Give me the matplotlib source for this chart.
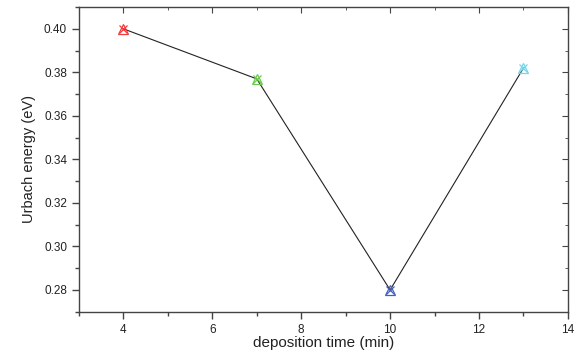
import matplotlib
matplotlib.use("Agg")
import matplotlib.pyplot as plt
from matplotlib.ticker import MultipleLocator

plt.rcParams['font.family'] = ['Liberation Sans', 'DejaVu Sans']

deposition_time = [4, 7, 10, 13]
urbach_energy = [0.400, 0.377, 0.280, 0.382]
point_colors = ["#f03c3c", "#6cc850", "#4060c0", "#6ed8ec"]

fig = plt.figure(figsize=(5.76, 3.53), dpi=100)
ax = fig.add_axes([0.137, 0.117, 0.849, 0.863])

ax.plot(deposition_time, urbach_energy, color="#222222", lw=0.8, zorder=1)
for x, y, c in zip(deposition_time, urbach_energy, point_colors):
    ax.plot(x, y, marker="x", ms=6, mew=0.9, color=c, zorder=3)
    ax.plot(x, y, marker="^", ms=7, mew=0.9, mfc="none", mec=c, zorder=3)

ax.set_xlim(3, 14)
ax.set_ylim(0.27, 0.41)
ax.xaxis.set_major_locator(MultipleLocator(2))
ax.xaxis.set_minor_locator(MultipleLocator(1))
ax.yaxis.set_major_locator(MultipleLocator(0.02))
ax.yaxis.set_minor_locator(MultipleLocator(0.01))
ax.yaxis.set_major_formatter(matplotlib.ticker.FormatStrFormatter("%.2f"))

for s in ax.spines.values():
    s.set_color("#444444")
    s.set_linewidth(1.0)

ax.tick_params(which="both", direction="out", top=False, right=False,
               colors="#444444", labelcolor="#222222", labelsize=8.5)
ax.tick_params(which="major", length=5, width=1.0)
ax.tick_params(which="minor", length=3, width=1.0)

# inward ticks on top and right like the original
ax_top = ax.secondary_xaxis("top")
ax_top.xaxis.set_major_locator(MultipleLocator(2))
ax_top.xaxis.set_minor_locator(MultipleLocator(1))
ax_top.tick_params(which="both", direction="in", labeltop=False, colors="#444444")
ax_top.tick_params(which="major", length=4)
ax_top.tick_params(which="minor", length=2.5)
ax_top.spines["top"].set_visible(False)
ax_right = ax.secondary_yaxis("right")
ax_right.yaxis.set_major_locator(MultipleLocator(0.02))
ax_right.yaxis.set_minor_locator(MultipleLocator(0.01))
ax_right.tick_params(which="both", direction="in", labelright=False, colors="#444444")
ax_right.tick_params(which="major", length=4)
ax_right.tick_params(which="minor", length=2.5)
ax_right.spines["right"].set_visible(False)

ax.set_xlabel("deposition time (min)", fontsize=11, labelpad=0, color="#222222")
ax.set_ylabel("Urbach energy (eV)", fontsize=10.5, labelpad=6, color="#222222")

fig.savefig("out.png", dpi=100)
